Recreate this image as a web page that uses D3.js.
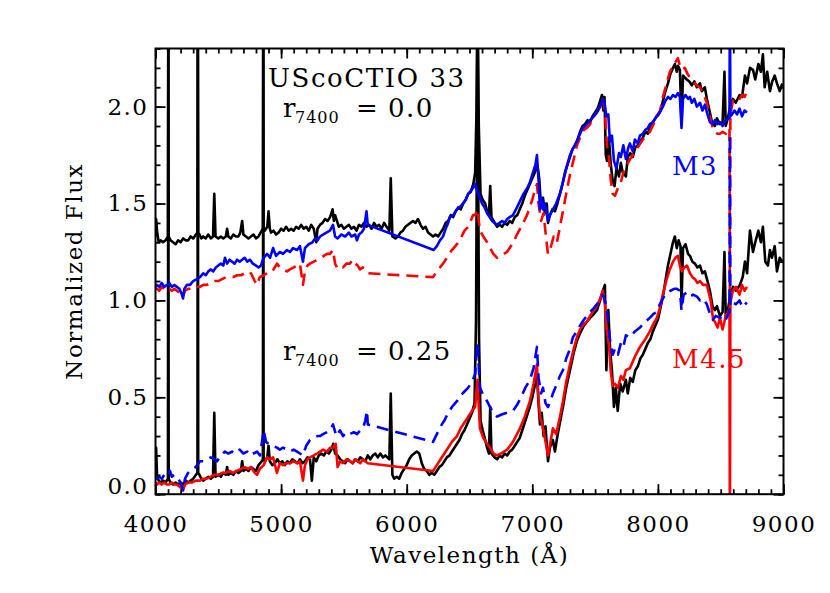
<!DOCTYPE html>
<html>
<head>
<meta charset="utf-8">
<title>UScoCTIO 33</title>
<script src="https://cdn.jsdelivr.net/npm/d3@7"></script>
<style>
body { margin: 0; background: #fff; }
svg text { font-family: "DejaVu Serif", serif; fill: #000; }
.spec { fill: none; stroke-width: 2.6; stroke-linejoin: round; }
.dashed { stroke-dasharray: 12,7; }
.frame { fill: none; stroke: #000; stroke-width: 2; }
.axis line { stroke: #000; stroke-width: 1.8; }
</style>
</head>
<body>
<svg id="chart" width="830" height="593"></svg>
<script>
// tick labels
var xMajor = [4000, 5000, 6000, 7000, 8000, 9000];
var yMajor = [0.0, 0.5, 1.0, 1.5, 2.0];

// observed spectrum, upper copy (r7400 = 0.0)
var obsTop = [[4000,1.33],[4005,1.42],[4012,1.36],[4025,1.30],[4040,1.31],[4060,1.30],[4080,1.31],[4099,1.33],[4102,2.6],[4105,1.33],
[4120,1.31],[4140,1.30],[4160,1.29],[4180,1.31],[4200,1.30],[4220,1.32],[4240,1.31],[4260,1.31],[4280,1.33],[4300,1.32],[4322,1.34],[4334,1.35],[4337,2.6],[4340,1.35],[4350,1.34],
[4365,1.32],[4380,1.33],[4400,1.32],[4420,1.34],[4440,1.32],[4458,1.33],[4468,1.55],[4478,1.33],[4500,1.32],[4520,1.33],[4540,1.32],[4560,1.33],[4570,1.37],[4580,1.33],
[4600,1.32],[4620,1.34],[4640,1.33],[4660,1.33],[4675,1.35],[4690,1.41],[4700,1.34],[4720,1.33],[4740,1.32],[4760,1.33],[4780,1.34],[4800,1.32],[4820,1.33],[4846,1.36],
[4855,1.37],[4858,2.6],[4861,1.37],[4870,1.36],[4890,1.38],[4900,1.46],[4910,1.37],[4920,1.35],[4940,1.36],[4960,1.34],[4980,1.35],[5000,1.37],[5020,1.36],[5040,1.38],[5060,1.36],
[5080,1.37],[5100,1.36],[5120,1.38],[5140,1.37],[5160,1.39],[5180,1.37],[5200,1.38],[5220,1.36],[5240,1.39],[5260,1.37],[5280,1.30],[5290,1.37],[5310,1.39],[5330,1.40],
[5350,1.42],[5370,1.41],[5390,1.43],[5410,1.47],[5420,1.41],[5430,1.44],[5440,1.42],[5460,1.38],[5480,1.39],[5500,1.37],[5520,1.38],[5540,1.39],[5560,1.37],[5580,1.38],
[5600,1.36],[5620,1.39],[5640,1.38],[5660,1.40],[5680,1.38],[5700,1.39],[5720,1.37],[5740,1.40],[5760,1.38],[5780,1.39],[5800,1.37],[5820,1.40],[5840,1.38],[5862,1.36],
[5873,1.63],[5886,1.33],[5910,1.32],[5930,1.33],[5950,1.35],[5970,1.36],[5990,1.38],[6010,1.39],[6030,1.40],[6050,1.41],[6070,1.40],[6090,1.42],[6110,1.39],[6130,1.37],
[6150,1.38],[6170,1.35],[6190,1.34],[6210,1.33],[6230,1.34],[6250,1.33],[6270,1.35],[6290,1.37],[6310,1.40],[6330,1.41],[6350,1.44],[6370,1.43],[6390,1.46],[6410,1.48],
[6430,1.47],[6450,1.50],[6470,1.52],[6490,1.55],[6510,1.56],[6530,1.60],[6545,1.66],[6555,1.95],[6559,2.25],[6564,2.6],[6569,2.25],[6574,1.9],[6588,1.55],[6605,1.52],[6625,1.50],
[6640,1.46],[6655,1.44],[6665,1.59],[6675,1.43],[6700,1.40],[6720,1.38],[6740,1.39],[6760,1.38],[6780,1.40],[6800,1.39],[6820,1.41],[6840,1.40],[6860,1.43],[6880,1.44],
[6900,1.47],[6920,1.50],[6940,1.54],[6960,1.57],[6980,1.60],[7000,1.63],[7020,1.66],[7040,1.70],[7055,1.63],[7070,1.48],[7085,1.53],[7100,1.45],[7115,1.50],[7125,1.40],
[7140,1.44],[7160,1.47],[7180,1.46],[7200,1.50],[7220,1.55],[7240,1.60],[7260,1.66],[7280,1.70],[7300,1.74],[7320,1.78],[7340,1.80],[7360,1.83],[7380,1.87],[7400,1.90],
[7420,1.91],[7440,1.93],[7460,1.92],[7480,1.95],[7500,1.97],[7520,1.99],[7540,2.03],[7555,2.06],[7565,1.98],[7575,2.05],[7585,1.75],[7595,1.72],[7610,1.84],[7625,1.70],
[7640,1.62],[7655,1.59],[7670,1.68],[7690,1.64],[7705,1.71],[7720,1.66],[7745,1.64],[7760,1.74],[7780,1.76],[7800,1.74],[7820,1.79],[7840,1.80],[7860,1.82],[7880,1.84],
[7900,1.87],[7920,1.86],[7940,1.90],[7960,1.92],[7980,1.94],[8000,1.96],[8020,1.98],[8040,2.03],[8060,2.08],[8080,2.12],[8100,2.17],[8120,2.20],[8135,2.22],[8150,2.18],
[8160,2.21],[8175,2.19],[8188,1.92],[8200,2.16],[8215,2.15],[8230,2.14],[8250,2.13],[8270,2.11],[8290,2.13],[8310,2.10],[8335,2.12],[8350,2.08],[8374,2.10],[8390,2.04],
[8414,1.97],[8430,1.92],[8454,1.90],[8470,1.94],[8494,1.91],[8515,1.92],[8530,2.18],[8540,1.90],[8557,1.94],[8575,2.00],[8597,2.04],[8620,2.02],[8650,2.06],[8670,2.05],
[8693,2.16],[8710,2.12],[8733,2.20],[8757,2.19],[8775,2.14],[8800,2.22],[8820,2.18],[8836,2.27],[8850,2.10],[8870,2.18],[8892,2.08],[8910,2.13],[8930,2.16],[8948,2.12],
[8970,2.08],[8990,2.12]];

// observed spectrum, lower copy (r7400 = 0.25)
var obsBot = [[4000,0.14],[4005,0.24],[4012,0.10],[4025,0.07],[4040,0.06],[4060,0.07],[4080,0.06],[4099,0.08],[4102,2.6],[4105,0.08],
[4120,0.06],[4140,0.05],[4160,0.06],[4180,0.05],[4200,0.06],[4220,0.05],[4240,0.07],[4260,0.06],[4280,0.07],[4300,0.08],[4322,0.10],[4334,0.11],[4337,2.6],[4340,0.11],[4350,0.10],
[4365,0.08],[4380,0.07],[4400,0.08],[4420,0.09],[4440,0.08],[4458,0.09],[4468,0.42],[4478,0.09],[4500,0.10],[4520,0.09],[4540,0.11],[4560,0.10],[4570,0.14],[4580,0.10],
[4600,0.11],[4620,0.10],[4640,0.12],[4660,0.11],[4680,0.12],[4690,0.17],[4700,0.12],[4720,0.13],[4740,0.12],[4760,0.14],[4780,0.13],[4800,0.12],[4820,0.15],[4846,0.17],
[4855,0.18],[4858,2.6],[4861,0.18],[4870,0.17],[4890,0.19],[4900,0.25],[4910,0.17],[4930,0.15],[4950,0.16],[4970,0.18],[4990,0.16],[5010,0.17],[5030,0.15],[5050,0.17],[5070,0.16],
[5090,0.18],[5110,0.17],[5130,0.16],[5150,0.18],[5170,0.16],[5190,0.17],[5210,0.19],[5230,0.18],[5245,0.07],[5260,0.19],[5280,0.17],[5300,0.20],[5320,0.21],[5340,0.20],
[5360,0.22],[5380,0.21],[5400,0.23],[5415,0.26],[5430,0.21],[5450,0.20],[5470,0.18],[5490,0.17],[5510,0.16],[5530,0.18],[5550,0.17],[5570,0.16],[5590,0.18],[5610,0.17],
[5630,0.19],[5650,0.18],[5670,0.17],[5690,0.20],[5710,0.18],[5730,0.20],[5750,0.21],[5770,0.19],[5790,0.21],[5810,0.19],[5830,0.20],[5862,0.18],[5873,0.52],[5886,0.10],
[5900,0.08],[5920,0.09],[5940,0.08],[5960,0.11],[5980,0.13],[6000,0.15],[6020,0.18],[6040,0.20],[6060,0.21],[6080,0.22],[6100,0.21],[6120,0.16],[6140,0.13],[6160,0.12],
[6180,0.10],[6200,0.11],[6220,0.10],[6240,0.12],[6260,0.14],[6280,0.15],[6300,0.17],[6320,0.19],[6340,0.20],[6360,0.22],[6380,0.24],[6400,0.26],[6420,0.28],[6440,0.31],
[6460,0.33],[6480,0.36],[6500,0.39],[6520,0.42],[6540,0.47],[6552,0.9],[6559,1.8],[6564,2.6],[6569,1.7],[6576,0.8],[6588,0.38],[6605,0.33],[6625,0.28],[6640,0.24],[6655,0.21],
[6665,0.45],[6675,0.21],[6700,0.19],[6720,0.18],[6740,0.20],[6760,0.19],[6780,0.21],[6800,0.20],[6820,0.22],[6840,0.23],[6860,0.25],[6880,0.27],[6900,0.29],[6920,0.33],
[6940,0.37],[6960,0.41],[6980,0.45],[7000,0.50],[7020,0.56],[7037,0.62],[7050,0.46],[7061,0.36],[7075,0.42],[7090,0.30],[7105,0.35],[7125,0.17],[7140,0.24],[7164,0.28],
[7180,0.22],[7200,0.30],[7220,0.37],[7244,0.45],[7270,0.55],[7300,0.64],[7330,0.73],[7355,0.79],[7380,0.83],[7410,0.87],[7435,0.89],[7460,0.91],[7490,0.93],[7515,0.95],
[7540,1.00],[7562,1.05],[7578,1.08],[7590,0.64],[7605,0.95],[7620,0.74],[7634,0.64],[7650,0.45],[7665,0.55],[7680,0.43],[7700,0.57],[7720,0.53],[7745,0.59],[7760,0.52],
[7780,0.60],[7800,0.58],[7820,0.64],[7840,0.66],[7860,0.70],[7880,0.72],[7900,0.75],[7920,0.78],[7940,0.80],[7960,0.84],[7980,0.87],[8000,0.90],[8020,0.96],[8040,1.02],
[8060,1.10],[8080,1.18],[8100,1.24],[8120,1.30],[8135,1.33],[8150,1.27],[8165,1.31],[8180,1.28],[8188,0.98],[8200,1.27],[8220,1.29],[8240,1.24],[8255,1.23],[8275,1.20],
[8295,1.19],[8315,1.17],[8335,1.18],[8355,1.14],[8374,1.15],[8395,1.10],[8414,1.05],[8435,0.97],[8454,0.95],[8470,0.97],[8494,0.92],[8515,0.94],[8530,1.25],[8540,0.92],
[8557,0.95],[8575,1.02],[8597,1.07],[8620,1.05],[8653,1.08],[8675,1.12],[8693,1.20],[8710,1.14],[8733,1.36],[8757,1.25],[8775,1.30],[8800,1.36],[8820,1.30],[8836,1.38],
[8855,1.20],[8876,1.18],[8892,1.26],[8908,1.22],[8930,1.28],[8948,1.15],[8970,1.22],[8990,1.20]];

// M3 template, unveiled (solid blue, top)
var m3Top = [[4000,1.07],[4012,1.08],[4030,1.07],[4050,1.09],[4070,1.07],[4090,1.08],[4110,1.09],[4130,1.07],[4150,1.08],[4170,1.07],[4190,1.06],[4210,1.03],
[4219,1.01],[4230,1.06],[4250,1.08],[4275,1.08],[4300,1.10],[4330,1.11],[4354,1.12],[4380,1.14],[4400,1.13],[4420,1.15],[4440,1.16],[4460,1.15],[4480,1.17],[4500,1.18],
[4520,1.19],[4540,1.18],[4553,1.22],[4570,1.19],[4590,1.21],[4610,1.20],[4630,1.19],[4650,1.21],[4670,1.20],[4690,1.21],[4710,1.22],[4730,1.20],[4752,1.21],[4775,1.19],
[4800,1.18],[4820,1.17],[4840,1.18],[4861,1.22],[4888,1.24],[4912,1.22],[4936,1.27],[4960,1.23],[4990,1.25],[5015,1.24],[5047,1.26],[5071,1.25],[5095,1.27],[5127,1.26],
[5150,1.28],[5174,1.20],[5190,1.27],[5220,1.29],[5250,1.30],[5270,1.32],[5290,1.31],[5310,1.33],[5334,1.34],[5360,1.35],[5389,1.36],[5413,1.39],[5430,1.33],[5450,1.32],
[5480,1.34],[5510,1.33],[5540,1.35],[5560,1.33],[5590,1.34],[5604,1.31],[5620,1.34],[5640,1.35],[5660,1.37],[5680,1.46],[5690,1.39],
[6215,1.26],[6240,1.28],[6265,1.31],[6289,1.33],[6310,1.37],[6330,1.40],[6344,1.43],[6370,1.44],[6400,1.47],[6420,1.48],[6448,1.50],[6470,1.52],[6490,1.55],[6504,1.56],
[6528,1.58],[6545,1.60],[6563,1.56],[6583,1.53],[6600,1.50],[6620,1.48],[6640,1.45],[6660,1.43],[6680,1.41],[6700,1.40],[6719,1.39],[6740,1.40],[6760,1.41],[6780,1.40],
[6800,1.42],[6820,1.43],[6846,1.44],[6878,1.48],[6900,1.51],[6930,1.55],[6960,1.58],[6981,1.61],[7005,1.66],[7025,1.70],[7037,1.75],[7050,1.62],[7061,1.47],[7075,1.53],
[7085,1.47],[7100,1.50],[7125,1.41],[7140,1.44],[7164,1.47],[7190,1.50],[7220,1.55],[7244,1.61],[7270,1.68],[7300,1.75],[7320,1.78],[7355,1.82],[7380,1.86],[7403,1.89],
[7435,1.91],[7460,1.93],[7490,1.95],[7514,1.97],[7540,2.00],[7562,2.04],[7575,2.02],[7590,1.95],[7605,1.96],[7618,1.82],[7634,1.85],[7650,1.72],[7670,1.68],[7690,1.76],
[7705,1.74],[7725,1.80],[7745,1.73],[7765,1.79],[7777,1.81],[7800,1.77],[7817,1.83],[7840,1.81],[7857,1.85],[7880,1.86],[7900,1.88],[7920,1.89],[7936,1.91],[7960,1.92],
[7990,1.95],[8015,1.97],[8040,2.00],[8060,2.03],[8080,2.05],[8100,2.04],[8120,2.06],[8140,2.05],[8160,2.07],[8175,2.05],[8188,1.89],[8200,2.04],[8220,2.06],[8240,2.04],
[8255,2.05],[8270,2.02],[8290,2.04],[8310,2.00],[8335,2.02],[8355,1.98],[8374,2.01],[8395,1.96],[8414,1.92],[8435,1.91],[8454,1.93],[8475,1.91],[8494,1.92],[8515,1.90],
[8540,1.93],[8557,1.94],[8570,1.94],[8573,2.6],[8577,1.95],[8590,1.96],[8610,1.98],[8630,1.96],[8650,1.99],[8670,1.95],[8690,1.98],[8709,1.97]];

// M4.5 template, unveiled (dashed red, top)
var m45Top = [[4000,1.06],[4012,1.06],[4030,1.05],[4050,1.07],[4070,1.06],[4090,1.05],[4110,1.06],[4130,1.05],[4150,1.06],[4170,1.05],[4190,1.04],[4210,1.04],
[4219,1.02],[4235,1.05],[4260,1.06],[4290,1.06],[4320,1.07],[4354,1.07],[4380,1.08],[4410,1.08],[4440,1.09],[4470,1.10],[4500,1.10],[4530,1.11],[4560,1.12],[4590,1.12],
[4617,1.12],[4650,1.13],[4680,1.13],[4710,1.14],[4740,1.13],[4760,1.14],[4790,1.10],[4808,1.08],[4830,1.12],[4861,1.13],[4890,1.14],[4912,1.14],[4940,1.16],[4967,1.19],
[4990,1.17],[5015,1.16],[5047,1.15],[5071,1.16],[5100,1.17],[5127,1.18],[5150,1.19],[5174,1.08],[5190,1.15],[5210,1.18],[5230,1.19],[5260,1.20],[5290,1.21],[5320,1.22],
[5340,1.23],[5365,1.24],[5389,1.24],[5413,1.26],[5430,1.19],[5445,1.17],[5470,1.18],[5493,1.17],[5520,1.19],[5548,1.19],[5570,1.21],[5590,1.19],[5610,1.18],[5628,1.16],
[5650,1.17],[5670,1.15],[5690,1.14],
[6210,1.12],[6240,1.15],[6265,1.17],[6300,1.20],[6330,1.23],[6360,1.26],[6400,1.29],[6430,1.32],[6460,1.36],[6490,1.38],[6528,1.44],[6545,1.44],[6563,1.47],[6583,1.36],
[6610,1.33],[6640,1.30],[6663,1.27],[6690,1.24],[6719,1.22],[6750,1.23],[6798,1.25],[6840,1.29],[6878,1.34],[6920,1.39],[6958,1.44],[7000,1.52],[7020,1.57],[7037,1.60],
[7050,1.50],[7070,1.41],[7090,1.45],[7110,1.32],[7125,1.24],[7145,1.27],[7170,1.33],[7196,1.30],[7220,1.38],[7244,1.46],[7270,1.55],[7300,1.65],[7330,1.73],[7355,1.80],
[7380,1.84],[7410,1.88],[7435,1.89],[7460,1.91],[7490,1.95],[7514,1.97],[7540,2.00],[7562,2.04],[7578,1.98],[7594,1.80],[7610,1.74],[7625,1.62],[7640,1.55],[7658,1.54],
[7682,1.58],[7705,1.61],[7725,1.66],[7745,1.69],[7780,1.73],[7817,1.77],[7850,1.80],[7880,1.83],[7910,1.85],[7936,1.87],[7965,1.91],[7990,1.94],[8015,1.97],[8040,2.05],
[8070,2.12],[8095,2.18],[8120,2.21],[8140,2.23],[8159,2.25],[8175,2.21],[8195,2.19],[8215,2.20],[8235,2.17],[8255,2.15],[8280,2.13],[8310,2.11],[8335,2.10],[8360,2.07],
[8390,2.02],[8414,1.95],[8440,1.88],[8454,1.87],[8475,1.86],[8494,1.86],[8515,1.87],[8540,1.86],[8560,1.88],[8570,1.89],[8573,0.95],[8577,1.96],[8597,2.03],[8620,2.05],
[8650,2.04],[8670,2.06],[8690,2.05],[8709,2.08]];

// M3 template, veiled r7400 = 0.25 (dashed blue, bottom)
var m3Bot = [[4000,0.08],[4012,0.08],[4030,0.09],[4050,0.08],[4070,0.10],[4090,0.09],[4115,0.12],[4130,0.09],[4150,0.10],[4170,0.09],[4190,0.07],[4210,0.04],
[4219,0.02],[4235,0.08],[4260,0.11],[4290,0.13],[4320,0.14],[4354,0.17],[4380,0.17],[4410,0.18],[4440,0.19],[4470,0.18],[4490,0.17],[4520,0.20],[4553,0.22],[4580,0.21],
[4610,0.22],[4640,0.21],[4670,0.23],[4700,0.21],[4730,0.22],[4752,0.20],[4780,0.21],[4808,0.22],[4832,0.20],[4861,0.33],[4880,0.27],[4900,0.26],[4936,0.25],[4967,0.24],
[4990,0.23],[5015,0.24],[5047,0.23],[5071,0.22],[5100,0.23],[5127,0.22],[5150,0.21],[5174,0.20],[5200,0.25],[5230,0.28],[5260,0.29],[5290,0.30],[5310,0.30],[5334,0.31],
[5365,0.32],[5389,0.33],[5413,0.36],[5440,0.30],[5469,0.33],[5493,0.30],[5520,0.32],[5548,0.31],[5580,0.32],[5604,0.31],[5630,0.33],[5652,0.34],[5670,0.38],[5684,0.43],
[5690,0.36],
[6210,0.27],[6240,0.31],[6270,0.35],[6300,0.38],[6330,0.42],[6360,0.45],[6400,0.48],[6430,0.51],[6460,0.53],[6490,0.55],[6520,0.58],[6545,0.62],[6563,0.78],[6583,0.55],
[6610,0.51],[6640,0.48],[6663,0.45],[6690,0.42],[6719,0.40],[6750,0.41],[6798,0.42],[6846,0.43],[6878,0.46],[6910,0.50],[6945,0.55],[6981,0.59],[7010,0.65],[7037,0.76],
[7050,0.60],[7070,0.52],[7085,0.55],[7105,0.47],[7125,0.45],[7145,0.48],[7164,0.52],[7196,0.57],[7220,0.61],[7244,0.64],[7270,0.70],[7300,0.75],[7323,0.81],[7355,0.84],
[7380,0.87],[7410,0.90],[7435,0.92],[7460,0.94],[7490,0.96],[7514,0.98],[7540,1.00],[7562,1.03],[7578,1.00],[7594,0.95],[7618,0.80],[7640,0.72],[7658,0.75],[7682,0.72],
[7705,0.78],[7725,0.76],[7745,0.82],[7777,0.81],[7817,0.84],[7857,0.86],[7900,0.89],[7936,0.91],[7965,0.93],[7992,0.94],[8015,0.98],[8039,1.01],[8070,1.04],[8100,1.05],
[8130,1.06],[8151,1.06],[8175,1.05],[8188,0.95],[8205,1.03],[8231,1.04],[8255,1.02],[8280,1.03],[8311,1.02],[8335,1.00],[8360,1.01],[8390,0.98],[8420,0.92],[8438,0.90],
[8460,0.92],[8494,0.91],[8518,0.92],[8540,0.90],[8560,0.93],[8570,0.94],[8573,1.85],[8577,0.97],[8597,0.99],[8620,0.98],[8650,1.00],[8670,0.97],[8690,0.99],[8709,0.98]];

// M4.5 template, veiled r7400 = 0.25 (solid red, bottom)
var m45Bot = [[4000,0.06],[4012,0.05],[4030,0.06],[4050,0.05],[4070,0.06],[4090,0.05],[4110,0.05],[4130,0.06],[4150,0.05],[4170,0.05],[4190,0.04],[4210,0.03],
[4219,0.02],[4235,0.05],[4260,0.06],[4290,0.06],[4320,0.07],[4354,0.07],[4380,0.08],[4410,0.08],[4440,0.09],[4470,0.10],[4500,0.10],[4530,0.11],[4560,0.11],[4590,0.12],
[4617,0.11],[4650,0.12],[4680,0.13],[4710,0.14],[4740,0.13],[4760,0.14],[4790,0.11],[4808,0.10],[4830,0.13],[4861,0.15],[4888,0.19],[4912,0.18],[4936,0.19],[4967,0.11],
[4990,0.16],[5015,0.15],[5047,0.16],[5071,0.16],[5100,0.17],[5127,0.16],[5150,0.17],[5174,0.07],[5190,0.15],[5210,0.18],[5230,0.19],[5260,0.20],[5286,0.21],[5310,0.22],
[5334,0.23],[5365,0.22],[5389,0.24],[5413,0.24],[5435,0.26],[5450,0.14],[5470,0.17],[5493,0.16],[5520,0.18],[5548,0.17],[5570,0.16],[5590,0.18],[5610,0.17],[5630,0.16],
[5652,0.18],[5670,0.17],[5690,0.16],
[6210,0.12],[6240,0.15],[6270,0.18],[6300,0.21],[6330,0.24],[6360,0.27],[6400,0.30],[6430,0.34],[6460,0.37],[6490,0.40],[6520,0.43],[6545,0.45],[6563,0.59],[6583,0.34],
[6610,0.29],[6640,0.26],[6663,0.24],[6690,0.21],[6719,0.20],[6750,0.21],[6800,0.23],[6846,0.27],[6878,0.31],[6902,0.34],[6940,0.40],[6981,0.48],[7010,0.57],[7037,0.67],
[7050,0.49],[7061,0.40],[7080,0.36],[7100,0.29],[7125,0.20],[7145,0.27],[7164,0.34],[7190,0.31],[7220,0.40],[7244,0.48],[7270,0.58],[7300,0.67],[7330,0.75],[7355,0.81],
[7380,0.85],[7410,0.88],[7435,0.89],[7460,0.92],[7490,0.95],[7514,0.97],[7540,1.01],[7562,1.05],[7578,0.98],[7594,0.84],[7612,0.76],[7625,0.63],[7640,0.56],[7658,0.57],
[7682,0.55],[7705,0.61],[7725,0.59],[7745,0.64],[7777,0.65],[7817,0.71],[7857,0.76],[7900,0.80],[7936,0.84],[7965,0.88],[7992,0.91],[8015,0.96],[8039,1.03],[8070,1.11],
[8095,1.16],[8120,1.20],[8140,1.22],[8159,1.23],[8175,1.18],[8191,1.15],[8210,1.17],[8231,1.18],[8255,1.14],[8275,1.12],[8295,1.11],[8315,1.09],[8335,1.10],[8360,1.08],
[8390,1.08],[8420,1.00],[8440,0.90],[8454,0.89],[8475,0.86],[8494,0.91],[8515,0.85],[8540,0.92],[8560,0.94],[8570,0.96],[8573,-0.3],[8577,0.99],[8597,1.05],[8620,1.07],
[8650,1.03],[8670,1.08],[8690,1.05],[8709,1.07]];

var svg = d3.select("#chart");

var x = d3.scaleLinear().domain([4000, 9000]).range([155.5, 783.5]);
var y = d3.scaleLinear().domain([0, 2.3]).range([494.2, 48.5]);

var plotLeft = x.range()[0], plotRight = x.range()[1];
var plotTop = y.range()[1], plotBottom = y.range()[0];

svg.append("defs").append("clipPath").attr("id", "plotclip")
    .append("rect")
    .attr("x", plotLeft).attr("y", plotTop)
    .attr("width", plotRight - plotLeft).attr("height", plotBottom - plotTop);

var line = d3.line()
    .x(function (d) { return x(d[0]); })
    .y(function (d) { return y(d[1]); });

var plot = svg.append("g").attr("clip-path", "url(#plotclip)");

var series = [
    { data: obsTop, color: "#000000", dashed: false },
    { data: obsBot, color: "#000000", dashed: false },
    { data: m45Top, color: "#ff0000", dashed: true },
    { data: m45Bot, color: "#ff0000", dashed: false },
    { data: m3Top, color: "#0000ff", dashed: false },
    { data: m3Bot, color: "#0000ff", dashed: true }
];

series.forEach(function (s) {
    plot.append("path")
        .attr("class", s.dashed ? "spec dashed" : "spec")
        .attr("d", line(s.data))
        .style("stroke", s.color);
});

// axes, ticks pointing inward on all four sides
function styleAxis(g) {
    g.select(".domain").remove();
    g.attr("font-family", null).attr("font-size", null);
    g.selectAll("text")
        .style("font-size", "23px")
        .style("letter-spacing", "1.5px");
}

var minorX = d3.range(4000, 9001, 100);
var minorY = d3.range(0, 2.31, 0.1);

svg.append("g").attr("class", "axis")
    .attr("transform", "translate(0," + plotBottom + ")")
    .call(d3.axisBottom(x).tickValues(xMajor).tickSize(-10).tickPadding(21).tickFormat(d3.format("d")))
    .call(styleAxis);
svg.append("g").attr("class", "axis")
    .attr("transform", "translate(0," + plotBottom + ")")
    .call(d3.axisBottom(x).tickValues(minorX).tickSize(-5).tickFormat(""))
    .call(styleAxis);
svg.append("g").attr("class", "axis")
    .attr("transform", "translate(0," + plotTop + ")")
    .call(d3.axisTop(x).tickValues(xMajor).tickSize(-10).tickFormat(""))
    .call(styleAxis);
svg.append("g").attr("class", "axis")
    .attr("transform", "translate(0," + plotTop + ")")
    .call(d3.axisTop(x).tickValues(minorX).tickSize(-5).tickFormat(""))
    .call(styleAxis);

var yLeft = svg.append("g").attr("class", "axis")
    .attr("transform", "translate(" + plotLeft + ",0)")
    .call(d3.axisLeft(y).tickValues(yMajor).tickSize(-10).tickPadding(7).tickFormat(d3.format(".1f")))
    .call(styleAxis);
// lowest label sits above the corner, as in the original
yLeft.selectAll(".tick text").filter(function (d) { return d === 0; }).attr("dy", "-0.05em");

svg.append("g").attr("class", "axis")
    .attr("transform", "translate(" + plotLeft + ",0)")
    .call(d3.axisLeft(y).tickValues(minorY).tickSize(-5).tickFormat(""))
    .call(styleAxis);
svg.append("g").attr("class", "axis")
    .attr("transform", "translate(" + plotRight + ",0)")
    .call(d3.axisRight(y).tickValues(yMajor).tickSize(-10).tickFormat(""))
    .call(styleAxis);
svg.append("g").attr("class", "axis")
    .attr("transform", "translate(" + plotRight + ",0)")
    .call(d3.axisRight(y).tickValues(minorY).tickSize(-5).tickFormat(""))
    .call(styleAxis);

svg.append("rect").attr("class", "frame")
    .attr("x", plotLeft).attr("y", plotTop)
    .attr("width", plotRight - plotLeft).attr("height", plotBottom - plotTop);

// axis titles
svg.append("text")
    .attr("x", (plotLeft + plotRight) / 2).attr("y", 563)
    .attr("text-anchor", "middle")
    .style("font-size", "23px").style("letter-spacing", "1.5px")
    .text("Wavelength (Å)");

svg.append("text")
    .attr("transform", "translate(82," + ((plotTop + plotBottom) / 2) + ") rotate(-90)")
    .attr("text-anchor", "middle")
    .style("font-size", "23px").style("letter-spacing", "1.5px")
    .text("Normalized Flux");

// labels inside the plot
svg.append("text")
    .attr("x", 268).attr("y", 87)
    .style("font-size", "26px").style("letter-spacing", "1.6px")
    .text("UScoCTIO 33");

function veilLabel(baseY, value) {
    var t = svg.append("text").attr("y", baseY)
        .style("font-size", "26px").style("letter-spacing", "1.5px");
    t.append("tspan").attr("x", 283).text("r");
    t.append("tspan").attr("x", 295).attr("dy", 6).style("font-size", "16px").style("letter-spacing", "1px").text("7400");
    t.append("tspan").attr("x", 356).attr("dy", -6).text("=");
    t.append("tspan").attr("x", 388).text(value);
}
veilLabel(117, "0.0");
veilLabel(360, "0.25");

svg.append("text")
    .attr("x", 672).attr("y", 175)
    .style("font-size", "26px").style("letter-spacing", "1.5px")
    .style("fill", "#0000ff")
    .text("M3");

svg.append("text")
    .attr("x", 672).attr("y", 368)
    .style("font-size", "26px").style("letter-spacing", "1.5px")
    .style("fill", "#ff0000")
    .text("M4.5");
</script>
</body>
</html>
